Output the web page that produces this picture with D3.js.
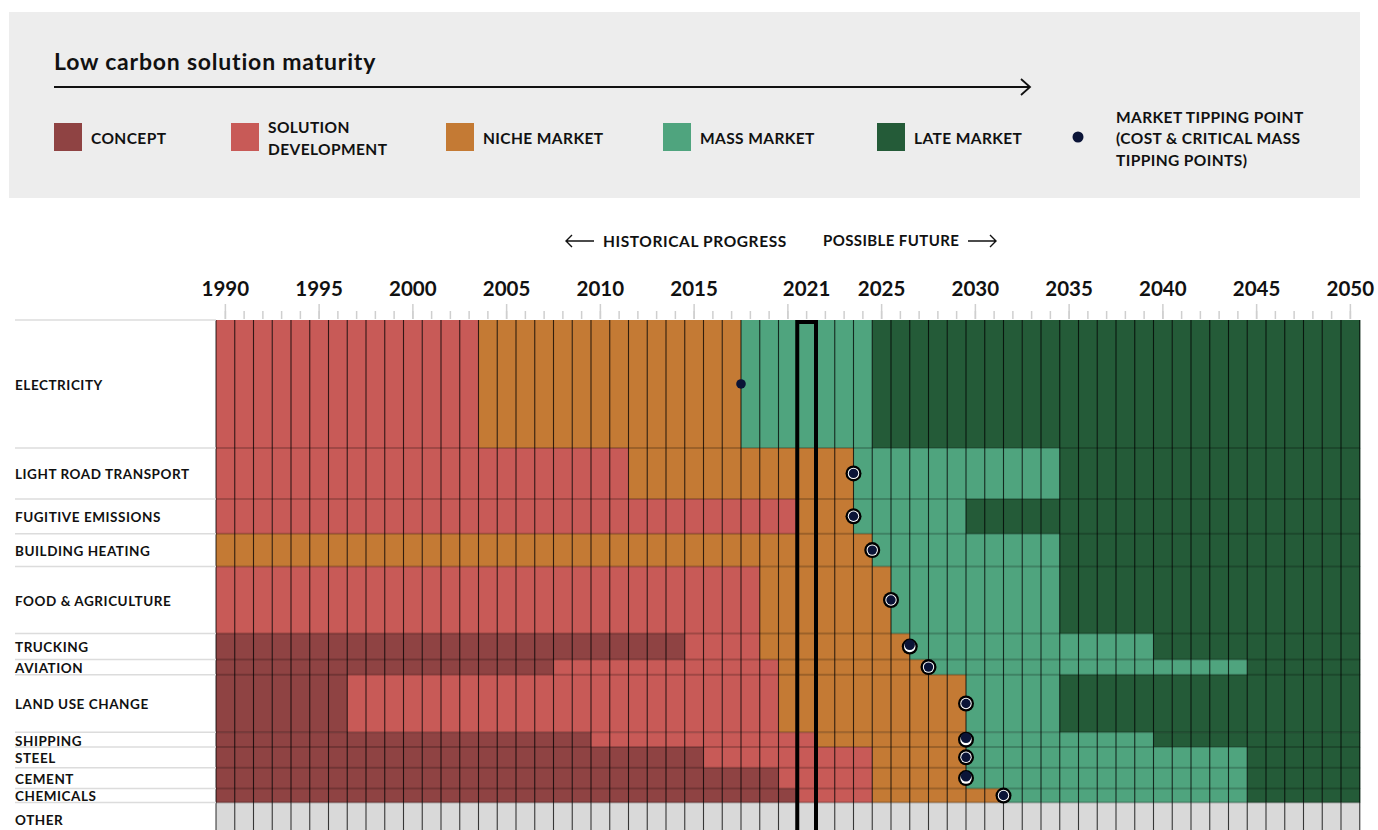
<!DOCTYPE html>
<html>
<head>
<meta charset="utf-8">
<script src="https://cdn.jsdelivr.net/npm/d3@7"></script>
<style>
  body { margin: 0; background: #fff; }
  svg { display: block; font-family: Lato, "Noto Sans", sans-serif; }
</style>
</head>
<body>
<div id="chart"></div>
<script>
// sectors, top to bottom; row height follows share of emissions
var sectors = ["ELECTRICITY", "LIGHT ROAD TRANSPORT", "FUGITIVE EMISSIONS", "BUILDING HEATING",
  "FOOD & AGRICULTURE", "TRUCKING", "AVIATION", "LAND USE CHANGE", "SHIPPING", "STEEL",
  "CEMENT", "CHEMICALS", "OTHER"];
var emissionShare = [24.6, 9.8, 6.7, 6.3, 12.9, 5.0, 2.9, 11.1, 2.8, 4.0, 4.0, 2.7, 6.5];

// first year of each maturity stage (null = stage not reached / not shown)
var conceptStart  = [null, null, null, null, null, 1990, 1990, 1990, 1990, 1990, 1990, 1990, null];
var solutionStart = [1990, 1990, 1990, null, 1990, 2015, 2008, 1997, 2010, 2016, 2020, 2021, null];
var nicheStart    = [2004, 2012, 2021, 1990, 2019, 2019, 2020, 2020, 2022, 2025, 2025, 2025, null];
var massStart     = [2018, 2024, 2024, 2025, 2026, 2027, 2028, 2030, 2030, 2030, 2030, 2032, null];
var lateStart     = [2025, 2035, 2030, 2035, 2035, 2040, 2045, 2035, 2040, 2045, 2045, 2045, null];

// market tipping points
var tippingYear  = [2018, 2024, 2024, 2025, 2026, 2027, 2028, 2030, 2030, 2030, 2030, 2032, null];
var tippingStyle = ["dot", "ring", "ring", "ring", "ring", "crescent", "ring", "ring", "crescent", "ring", "crescent", "ring", null];

var stageNames = ["CONCEPT", "SOLUTION DEVELOPMENT", "NICHE MARKET", "MASS MARKET", "LATE MARKET"];
var stageColors = ["#8f4343", "#c85a57", "#c47a34", "#4fa47e", "#245b38"];
var otherColor = "#d9d9d9";

var years = d3.range(1990, 2051);
var majorTickYears = [1990, 1995, 2000, 2005, 2010, 2015, 2020, 2025, 2030, 2035, 2040, 2045, 2050];
var yearLabels = [1990, 1995, 2000, 2005, 2010, 2015, 2021, 2025, 2030, 2035, 2040, 2045, 2050];
var currentYear = 2021;

var width = 1378, height = 830;
var gridLeft = 216, gridTop = 320;

var svg = d3.select("#chart").append("svg")
  .attr("width", width)
  .attr("height", height);

// ---------- legend panel ----------
var legend = svg.append("g");
legend.append("rect")
  .attr("x", 9).attr("y", 12).attr("width", 1351).attr("height", 186)
  .attr("fill", "#ededed");

legend.append("text")
  .attr("x", 54).attr("y", 70)
  .attr("font-size", 23).attr("font-weight", 700)
  .attr("letter-spacing", 0.8)
  .attr("fill", "#111")
  .text("Low carbon solution maturity");

legend.append("line")
  .attr("x1", 54).attr("x2", 1030).attr("y1", 87).attr("y2", 87)
  .attr("stroke", "#111").attr("stroke-width", 2);
legend.append("path")
  .attr("d", "M1021,79 L1030,87 L1021,95")
  .attr("fill", "none").attr("stroke", "#111").attr("stroke-width", 1.8);

var legendX = [54, 231, 446, 663, 877];
var legendLines = [["CONCEPT"], ["SOLUTION", "DEVELOPMENT"], ["NICHE MARKET"], ["MASS MARKET"], ["LATE MARKET"]];

legendX.forEach(function(x, i) {
  legend.append("rect")
    .attr("x", x).attr("y", 123).attr("width", 28).attr("height", 28)
    .attr("fill", stageColors[i]);
  var lines = legendLines[i];
  lines.forEach(function(t, j) {
    legend.append("text")
      .attr("x", x + 37)
      .attr("y", 138 + (j - (lines.length - 1) / 2) * 22)
      .attr("dy", "0.36em")
      .attr("font-size", 15.5).attr("font-weight", 700)
      .attr("letter-spacing", 0.4)
      .attr("fill", "#111")
      .text(t);
  });
});

legend.append("circle")
  .attr("cx", 1078).attr("cy", 137).attr("r", 5.5)
  .attr("fill", "#0b1437");
["MARKET TIPPING POINT", "(COST & CRITICAL MASS", "TIPPING POINTS)"].forEach(function(t, j) {
  legend.append("text")
    .attr("x", 1116).attr("y", 117 + j * 21.5)
    .attr("dy", "0.36em")
    .attr("font-size", 15.5).attr("font-weight", 700)
    .attr("letter-spacing", 0.4)
    .attr("fill", "#111")
    .text(t);
});

// ---------- scales ----------
var x = d3.scaleBand()
  .domain(years)
  .range([gridLeft, gridLeft + years.length * 18.75])
  .padding(0);

var cumulative = [0];
emissionShare.forEach(function(s, i) { cumulative.push(cumulative[i] + s); });

var y = d3.scaleLinear()
  .domain([0, 100])
  .range([gridTop, gridTop + 520]);

// ---------- header arrows ----------
var header = svg.append("g");
header.append("text")
  .attr("x", 603).attr("y", 241).attr("dy", "0.36em")
  .attr("font-size", 15.5).attr("font-weight", 700).attr("letter-spacing", 0.6).attr("fill", "#111")
  .text("HISTORICAL PROGRESS");
header.append("text")
  .attr("x", 823).attr("y", 241).attr("dy", "0.36em")
  .attr("font-size", 15).attr("font-weight", 700).attr("letter-spacing", 0.4).attr("fill", "#111")
  .text("POSSIBLE FUTURE");
header.append("path")
  .attr("d", "M566,241 L594,241 M572,235 L566,241 L572,247")
  .attr("fill", "none").attr("stroke", "#111").attr("stroke-width", 1.4);
header.append("path")
  .attr("d", "M968,241 L996,241 M990,235 L996,241 L990,247")
  .attr("fill", "none").attr("stroke", "#111").attr("stroke-width", 1.4);

// ---------- axis ----------
var minorAxis = d3.axisTop(x).tickValues(years).tickSize(8).tickFormat("");
var majorAxis = d3.axisTop(x).tickValues(majorTickYears).tickSize(15).tickFormat("");
var labelAxis = d3.axisTop(x).tickValues(yearLabels).tickSize(0).tickPadding(0);

svg.append("g")
  .attr("transform", "translate(0," + (gridTop - 1) + ")")
  .call(minorAxis)
  .call(function(g) {
    g.select(".domain").remove();
    g.selectAll("line").attr("stroke", "#cfcfcf").attr("stroke-width", 1.5);
  });
svg.append("g")
  .attr("transform", "translate(0," + (gridTop - 1) + ")")
  .call(majorAxis)
  .call(function(g) {
    g.select(".domain").remove();
    g.selectAll("line").attr("stroke", "#cfcfcf").attr("stroke-width", 1.5);
  });
svg.append("g")
  .attr("transform", "translate(0,296)")
  .call(labelAxis)
  .call(function(g) {
    g.select(".domain").remove();
    g.selectAll("text")
      .attr("font-family", "Lato, 'Noto Sans', sans-serif")
      .attr("font-size", 20.5).attr("font-weight", 700)
      .attr("fill", "#111");
  });

// ---------- cells ----------
function stageOf(i, yr) {
  var starts = [conceptStart[i], solutionStart[i], nicheStart[i], massStart[i], lateStart[i]];
  var s = -1;
  starts.forEach(function(st, k) { if (st != null && yr >= st) s = k; });
  return s;
}

var cells = [];
sectors.forEach(function(name, i) {
  years.forEach(function(yr) {
    cells.push({ row: i, year: yr, stage: stageOf(i, yr) });
  });
});

var grid = svg.append("g");
grid.selectAll("rect.cell")
  .data(cells)
  .enter().append("rect")
  .attr("class", "cell")
  .attr("x", function(d) { return x(d.year); })
  .attr("y", function(d) { return y(cumulative[d.row]); })
  .attr("width", x.bandwidth() + 0.5)
  .attr("height", function(d) { return y(cumulative[d.row + 1]) - y(cumulative[d.row]) + 0.5; })
  .attr("fill", function(d) { return d.stage < 0 ? otherColor : stageColors[d.stage]; });

// row separators inside the grid and in the label column
var boundaries = cumulative.slice(0, sectors.length + 1);
grid.selectAll("line.rowsep")
  .data(boundaries.slice(1, sectors.length))
  .enter().append("line")
  .attr("x1", gridLeft).attr("x2", x.range()[1])
  .attr("y1", function(d) { return y(d); })
  .attr("y2", function(d) { return y(d); })
  .attr("stroke", "#000").attr("stroke-opacity", 0.2).attr("stroke-width", 2);

svg.append("g").selectAll("line")
  .data(boundaries.slice(0, sectors.length))
  .enter().append("line")
  .attr("x1", 15).attr("x2", gridLeft)
  .attr("y1", function(d) { return y(d); })
  .attr("y2", function(d) { return y(d); })
  .attr("stroke", "#dcdcdc").attr("stroke-width", 1.5);

// vertical column lines
grid.selectAll("line.colsep")
  .data(years.concat([2051]))
  .enter().append("line")
  .attr("x1", function(d) { return d === 2051 ? x.range()[1] : x(d); })
  .attr("x2", function(d) { return d === 2051 ? x.range()[1] : x(d); })
  .attr("y1", gridTop).attr("y2", height)
  .attr("stroke", "#000").attr("stroke-opacity", 0.75).attr("stroke-width", 1.1);

// current year highlight
svg.append("rect")
  .attr("x", x(currentYear)).attr("y", gridTop + 2)
  .attr("width", x.bandwidth()).attr("height", height)
  .attr("fill", "none").attr("stroke", "#000").attr("stroke-width", 4);

// ---------- row labels ----------
svg.append("g").selectAll("text")
  .data(sectors)
  .enter().append("text")
  .attr("x", 15)
  .attr("y", function(d, i) { return (y(cumulative[i]) + y(cumulative[i + 1])) / 2 + 1; })
  .attr("dy", "0.36em")
  .attr("font-size", 13.5).attr("font-weight", 700)
  .attr("letter-spacing", 0.55)
  .attr("fill", "#111")
  .text(function(d) { return d; });

// ---------- tipping points ----------
var tips = [];
sectors.forEach(function(name, i) {
  if (tippingYear[i] != null) {
    tips.push({ year: tippingYear[i], style: tippingStyle[i],
      cy: (y(cumulative[i]) + y(cumulative[i + 1])) / 2 });
  }
});

var marker = svg.append("g").selectAll("g")
  .data(tips)
  .enter().append("g")
  .attr("transform", function(d) { return "translate(" + x(d.year) + "," + d.cy + ")"; });

marker.filter(function(d) { return d.style === "dot"; })
  .append("circle").attr("r", 4.8).attr("fill", "#0b1437");

var ringed = marker.filter(function(d) { return d.style !== "dot"; });
ringed.append("circle").attr("r", 8).attr("fill", "#000");
ringed.append("circle").attr("r", 5.7).attr("fill", "#fff");
ringed.append("circle")
  .attr("cy", function(d) { return d.style === "crescent" ? -1.8 : 0; })
  .attr("r", function(d) { return d.style === "crescent" ? 5.2 : 4.7; })
  .attr("fill", "#0b1437");
</script>
</body>
</html>
